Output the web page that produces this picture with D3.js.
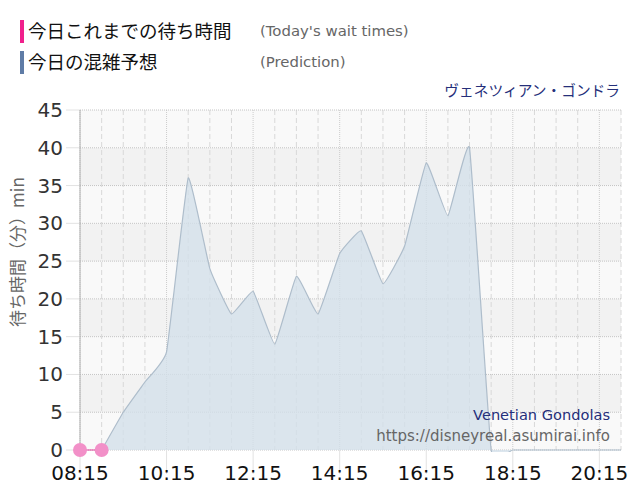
<!DOCTYPE html>
<html>
<head>
<meta charset="utf-8">
<script src="https://cdnjs.cloudflare.com/ajax/libs/d3/7.8.5/d3.min.js"></script>
<style>
  body { margin: 0; background: #fff; }
  svg { display: block; }
  .jp { font-family: "Noto Sans CJK JP", "DejaVu Sans", sans-serif; }
  .lat { font-family: "DejaVu Sans", sans-serif; }
</style>
</head>
<body>
<div id="chart"></div>
<script>
// wait times (today) and the day's prediction, minutes
var todayTimes = ["08:15", "08:45"];
var todayWaits = [0, 0];

var predTimes = ["08:45", "09:15", "09:45", "10:15", "10:45", "11:15", "11:45", "12:15",
  "12:45", "13:15", "13:45", "14:15", "14:45", "15:15", "15:45", "16:15", "16:45",
  "17:15", "17:45", "18:15", "18:45", "19:15", "19:45", "20:15", "20:45"];
var predWaits = [0, 5, 9, 13, 36, 24, 18, 21, 14, 23, 18, 26, 29, 22, 27, 38, 31,
  40, 0, 0, 0, 0, 0, 0, 0];

var xTickLabels = ["08:15", "10:15", "12:15", "14:15", "16:15", "18:15", "20:15"];
var yTickValues = [0, 5, 10, 15, 20, 25, 30, 35, 40, 45];

function toMin(s) {
  var p = s.split(":");
  return +p[0] * 60 + +p[1];
}

function draw() {
  var width = 640, height = 500;
  var pl = 80, pr = 621, pt = 110, pb = 450;

  var svg = d3.select("#chart").append("svg")
      .attr("width", width)
      .attr("height", height);

  svg.append("clipPath")
      .attr("id", "plotclip")
    .append("rect")
      .attr("x", pl).attr("y", pt - 5)
      .attr("width", pr - pl).attr("height", pb - pt + 7);

  var x = d3.scaleLinear()
      .domain([toMin("08:15"), toMin("20:45")])
      .range([pl, pr]);

  var y = d3.scaleLinear()
      .domain([0, 45])
      .range([pb, pt]);

  // alternating bands
  var bands = svg.append("g");
  for (var i = 0; i < yTickValues.length - 1; i++) {
    bands.append("rect")
        .attr("x", pl)
        .attr("width", pr - pl)
        .attr("y", y(yTickValues[i + 1]))
        .attr("height", y(yTickValues[i]) - y(yTickValues[i + 1]))
        .attr("fill", i % 2 === 0 ? "#f9f9f9" : "#f2f2f2");
  }

  // vertical grid: dashed every 30 min, dotted every 2 hours
  var start = toMin("08:15");
  var halfHours = d3.range(start, toMin("20:45") + 1, 30);
  svg.append("g").selectAll("line")
      .data(halfHours.filter(function(d) { return (d - start) % 120 !== 0; }))
    .enter().append("line")
      .attr("x1", x).attr("x2", x)
      .attr("y1", pt).attr("y2", pb)
      .attr("stroke", "#d8d8d8")
      .attr("stroke-dasharray", "5,3");

  var xTicks = xTickLabels.map(toMin);
  svg.append("g").selectAll("line")
      .data(xTicks)
    .enter().append("line")
      .attr("x1", x).attr("x2", x)
      .attr("y1", pt).attr("y2", pb)
      .attr("stroke", "#cccccc")
      .attr("stroke-dasharray", "1,1");

  // horizontal grid
  svg.append("g").selectAll("line")
      .data(yTickValues)
    .enter().append("line")
      .attr("x1", pl).attr("x2", pr)
      .attr("y1", y).attr("y2", y)
      .attr("stroke", "#c4c4c4")
      .attr("stroke-dasharray", "1,1");

  // y tick marks outside plot
  svg.append("g").selectAll("line")
      .data(yTickValues)
    .enter().append("line")
      .attr("x1", 66).attr("x2", pl)
      .attr("y1", y).attr("y2", y)
      .attr("stroke", "#e2e2e2");

  // x tick marks below plot
  svg.append("g").selectAll("line")
      .data(xTicks)
    .enter().append("line")
      .attr("x1", x).attr("x2", x)
      .attr("y1", pb).attr("y2", pb + 24)
      .attr("stroke", "#e2e2e2");

  svg.append("line")
      .attr("x1", pl).attr("x2", pl)
      .attr("y1", pt).attr("y2", pb)
      .attr("stroke", "#b0b0b0");

  // prediction area
  var pred = predTimes.map(function(t, i) { return { t: toMin(t), v: predWaits[i] }; });
  var curve = d3.curveCardinal.tension(0.7);

  var area = d3.area()
      .curve(curve)
      .x(function(d) { return x(d.t); })
      .y0(y(0))
      .y1(function(d) { return y(d.v); });

  var line = d3.line()
      .curve(curve)
      .x(function(d) { return x(d.t); })
      .y(function(d) { return y(d.v); });

  var series = svg.append("g").attr("clip-path", "url(#plotclip)");

  series.append("path")
      .datum(pred)
      .attr("d", area)
      .attr("fill", "#d3e0ea")
      .attr("fill-opacity", 0.8);

  series.append("path")
      .datum(pred)
      .attr("d", line)
      .attr("fill", "none")
      .attr("stroke", "#aebdcb")
      .attr("stroke-width", 1.2);

  // today's points
  var today = todayTimes.map(function(t, i) { return { t: toMin(t), v: todayWaits[i] }; });

  svg.append("path")
      .datum(today)
      .attr("d", d3.line().x(function(d) { return x(d.t); }).y(function(d) { return y(d.v); }))
      .attr("stroke", "#e0409a")
      .attr("stroke-width", 1)
      .attr("fill", "none");

  svg.append("g").selectAll("circle")
      .data(today)
    .enter().append("circle")
      .attr("cx", function(d) { return x(d.t); })
      .attr("cy", function(d) { return y(d.v); })
      .attr("r", 7)
      .attr("fill", "#f290c8");

  // axis labels
  svg.append("g").selectAll("text")
      .data(yTickValues)
    .enter().append("text")
      .attr("class", "lat")
      .attr("x", 63)
      .attr("y", function(d) { return y(d) + 7; })
      .attr("text-anchor", "end")
      .attr("font-size", 20)
      .attr("fill", "#333")
      .text(function(d) { return d; });

  svg.append("g").selectAll("text")
      .data(xTickLabels)
    .enter().append("text")
      .attr("class", "lat")
      .attr("x", function(d) { return x(toMin(d)); })
      .attr("y", 480)
      .attr("text-anchor", "middle")
      .attr("font-size", 20)
      .attr("fill", "#111")
      .text(function(d) { return d; });

  svg.append("text")
      .attr("class", "jp")
      .attr("transform", "translate(24,252) rotate(-90)")
      .attr("text-anchor", "middle")
      .attr("font-size", 17)
      .attr("fill", "#666")
      .text("待ち時間（分）min");

  // legend
  var legend = [
    { jp: "今日これまでの待ち時間", en: "(Today's wait times)", color: "#f0208c" },
    { jp: "今日の混雑予想", en: "(Prediction)", color: "#5f7ca6" }
  ];
  legend.forEach(function(d, i) {
    var ly = 20 + i * 31;
    svg.append("rect")
        .attr("x", 20).attr("y", ly)
        .attr("width", 4).attr("height", 23)
        .attr("fill", d.color);
    svg.append("text")
        .attr("class", "jp")
        .attr("x", 28).attr("y", ly + 18)
        .attr("font-size", 18.5)
        .attr("fill", "#111")
        .text(d.jp);
    svg.append("text")
        .attr("class", "lat")
        .attr("x", 260).attr("y", ly + 16)
        .attr("font-size", 14.9)
        .attr("fill", "#666")
        .text(d.en);
  });

  svg.append("text")
      .attr("class", "jp")
      .attr("x", 620).attr("y", 96)
      .attr("text-anchor", "end")
      .attr("font-size", 14.7)
      .attr("fill", "#252f7a")
      .text("ヴェネツィアン・ゴンドラ");

  svg.append("text")
      .attr("class", "lat")
      .attr("x", 610).attr("y", 420)
      .attr("text-anchor", "end")
      .attr("font-size", 14.6)
      .attr("fill", "#252f7a")
      .text("Venetian Gondolas");

  svg.append("text")
      .attr("class", "lat")
      .attr("x", 610).attr("y", 441)
      .attr("text-anchor", "end")
      .attr("font-size", 15)
      .attr("fill", "#666")
      .text("https://disneyreal.asumirai.info");
}

draw();
</script>
</body>
</html>
